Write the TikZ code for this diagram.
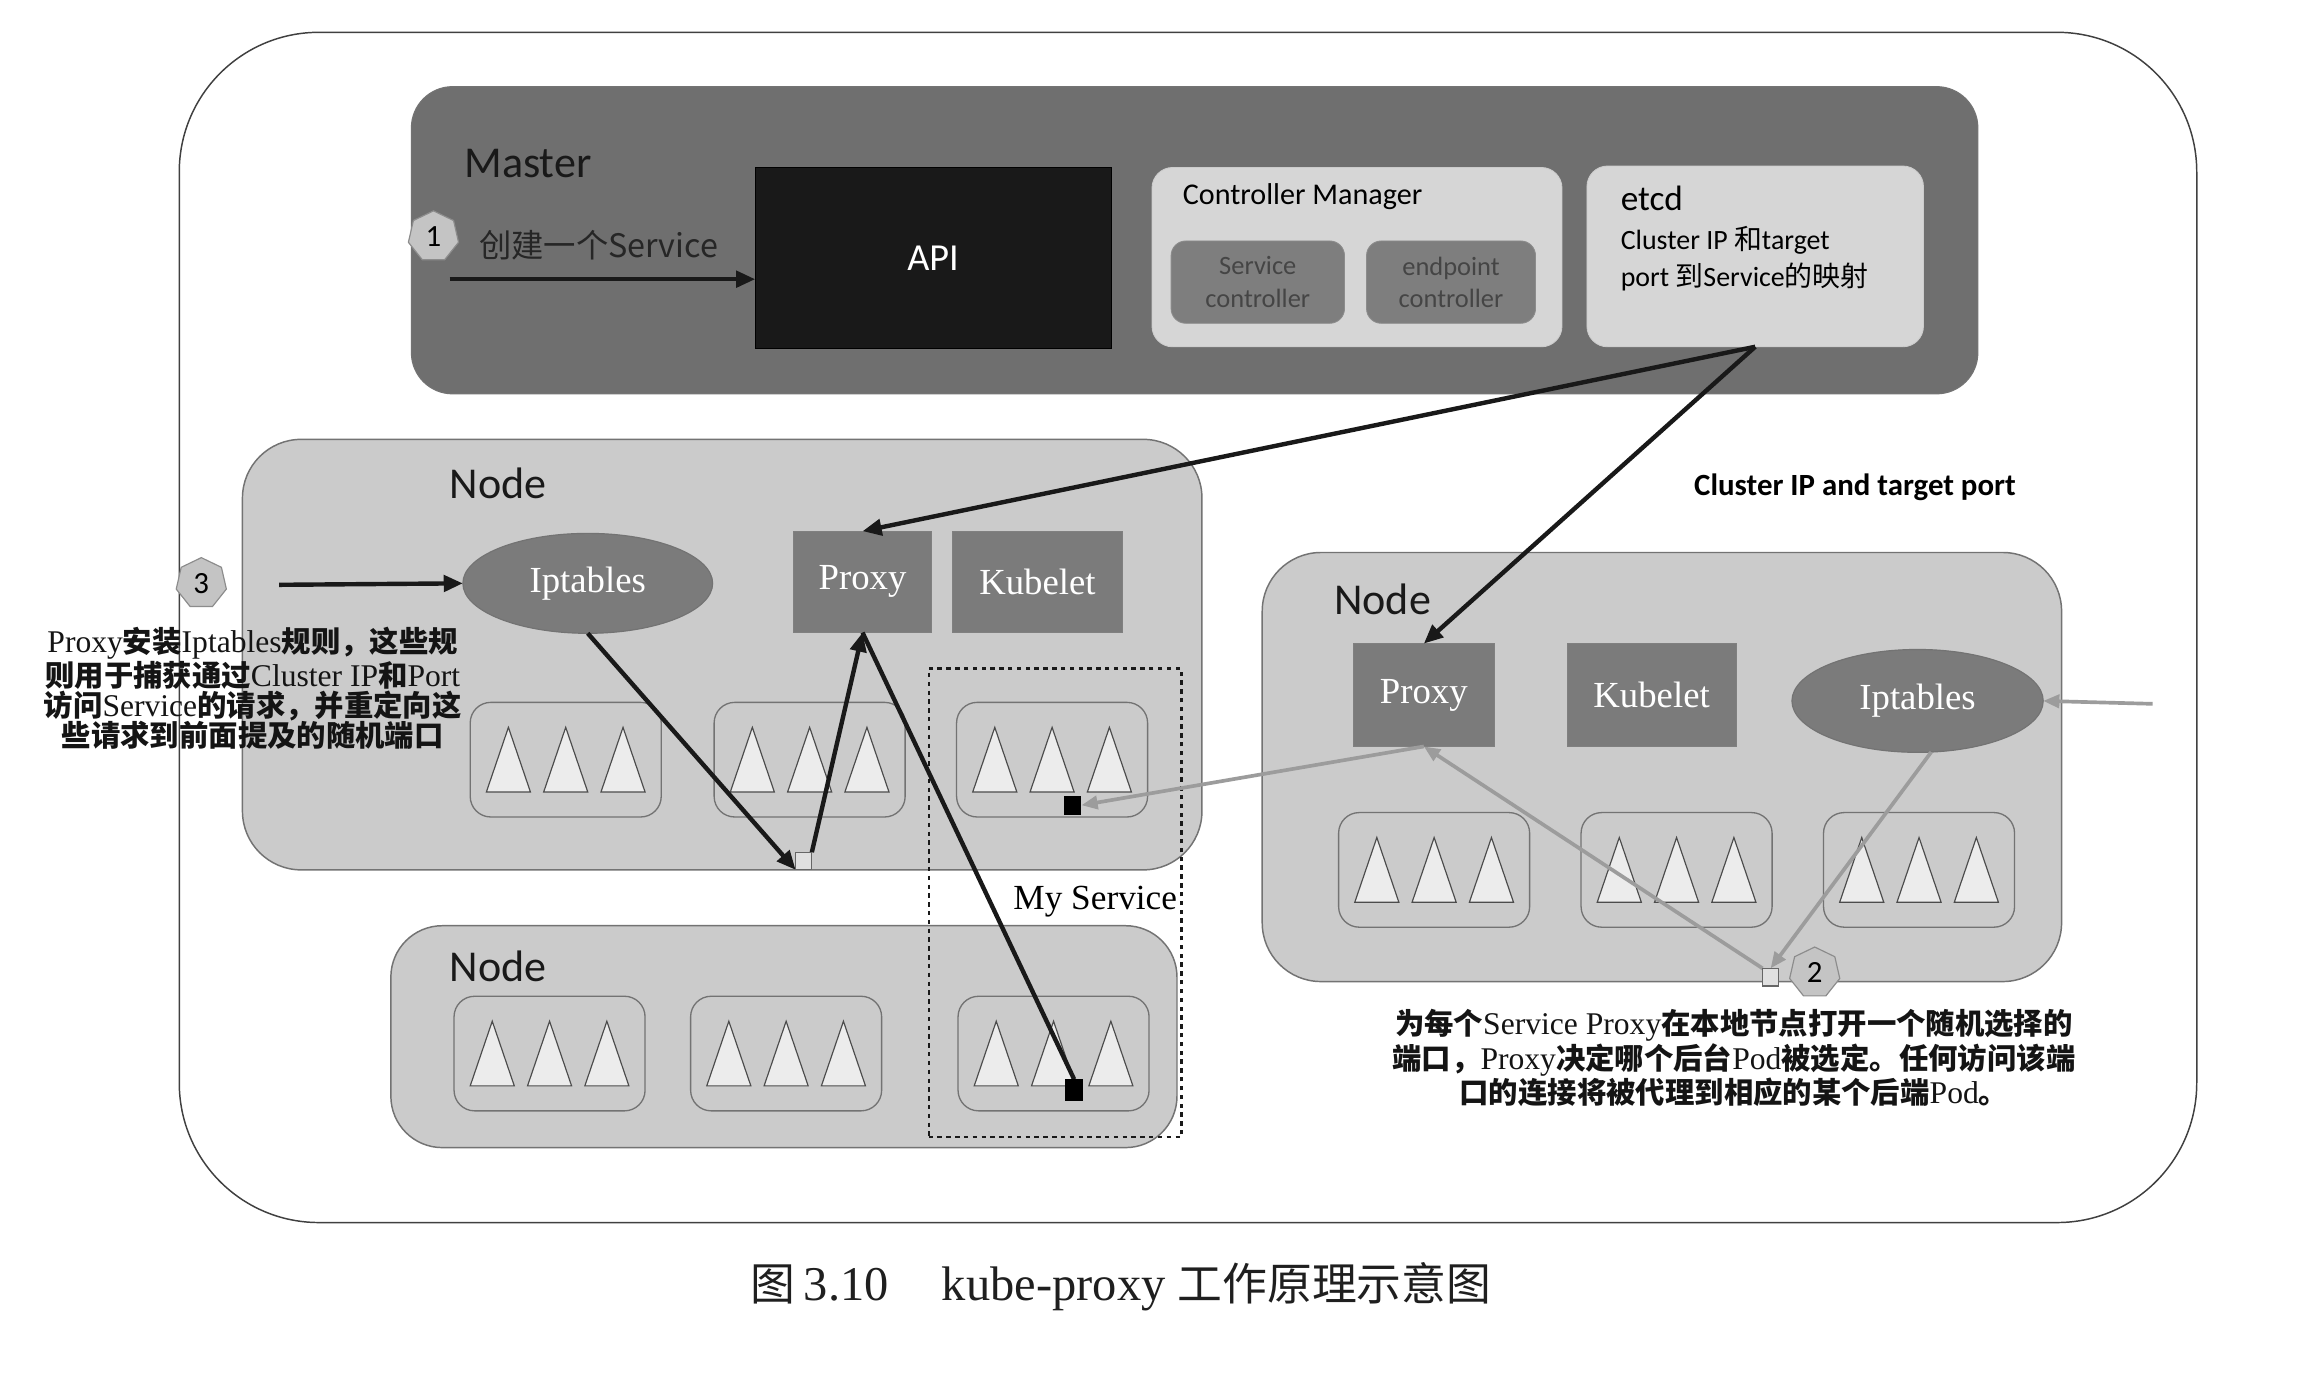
\documentclass[tikz,border=0pt]{standalone}
\usepackage{fontspec}
\setmainfont{Liberation Serif}
\newfontfamily\calib{Carlito}
\newfontfamily\cjk{Noto Sans CJK SC}
\usetikzlibrary{arrows.meta,shapes.geometric}
\definecolor{mastergray}{HTML}{6F6F6F}
\definecolor{lightbox}{HTML}{D6D6D6}
\definecolor{nodefill}{HTML}{CBCBCB}
\definecolor{compfill}{HTML}{7B7B7B}
\definecolor{ctrlfill}{HTML}{7E7E7E}
\definecolor{ctrltext}{HTML}{454545}
\definecolor{trifill}{HTML}{ECECEC}
\definecolor{graylink}{HTML}{9C9C9C}
\definecolor{markfill}{HTML}{C4C4C4}
\newcommand\zhb[1]{{\cjk\bfseries\fontsize{20}{20.5}\selectfont #1}}
\newcommand\zhr[1]{{\cjk #1}}
\tikzset{
  every node/.style={inner sep=0pt, outer sep=0pt},
  frame/.style={draw=black!75, line width=1pt, rounded corners=95pt, fill=white},
  masterbox/.style={draw=black!55, fill=mastergray, rounded corners=28pt, line width=0.8pt},
  apibox/.style={fill=black!90, draw=black},
  lightpanel/.style={fill=lightbox, draw=white!80!black, rounded corners=14pt, line width=0.6pt},
  ctrlbox/.style={fill=ctrlfill, draw=black!45, rounded corners=10pt, line width=0.6pt, text=ctrltext,
     align=center, font=\calib\fontsize{18}{22}\selectfont},
  knode/.style={fill=nodefill, draw=black!55, line width=1pt, rounded corners=40pt},
  compbox/.style={fill=compfill, draw=black!50, line width=0.8pt, text=white,
     font=\fontsize{25}{30}\selectfont},
  iptab/.style={ellipse, fill=compfill, draw=black!55, line width=0.8pt, text=white,
     minimum width=170pt, minimum height=68pt, font=\fontsize{25}{30}\selectfont},
  podbox/.style={fill=nodefill, draw=black!55, line width=0.9pt, rounded corners=14pt,
     minimum width=130pt, minimum height=78pt},
  tri/.style={fill=trifill, draw=black!70, line width=0.8pt},
  marker/.style={regular polygon, regular polygon sides=7, minimum size=35pt, fill=markfill,
     draw=black!45, line width=0.8pt, font=\calib\fontsize{21}{24}\selectfont},
  title/.style={font=\calib\fontsize{30}{36}\selectfont, text=black!90},
  blackarrow/.style={draw=black!90, line width=3pt, -{Triangle[length=13pt,width=11pt]}},
  blackline/.style={draw=black!90, line width=3pt},
  grayarrow/.style={draw=graylink, line width=2.5pt, -{Triangle[length=11pt,width=9pt]}},
  opensq/.style={fill=white!88!black, draw=black!60, line width=0.8pt, minimum width=11pt, minimum height=12pt},
  blacksq/.style={fill=black, minimum width=12pt, minimum height=13pt},
  note/.style={align=center, text=black!92, font=\fontsize{21.5}{20.5}\selectfont},
}
\newcommand\podgroup[3]{%
  \node[podbox] (#1) at (#2,#3) {};
  \foreach \dx in {-39,0,39} {
    \draw[tri] ({#2+\dx-15},{#3+22}) -- ({#2+\dx},{#3-22}) -- ({#2+\dx+15},{#3+22}) -- cycle;
  }
}
\begin{document}
\begin{tikzpicture}[x=1pt,y=-1pt]
\useasboundingbox (0,0) rectangle (1568,941);
\fill[white] (0,0) rectangle (1568,941);

% outer frame
\node[frame, minimum width=1373pt, minimum height=810pt, anchor=north west] (frame) at (122,22) {};

% ---------------- Master ----------------
\node[masterbox, minimum width=1066pt, minimum height=209pt, anchor=north west] (master) at (280,59) {};
\node[title, anchor=base west] (masterlbl) at (316,121) {Master};
\node[apibox, minimum width=242pt, minimum height=123pt, anchor=north west, text=white,
      font=\calib\fontsize{26}{30}\selectfont] (api) at (514,114) {API};
\node[marker] (m1) at (295,161) {1};
\node[anchor=west, text=black!85, font=\cjk\fontsize{22}{26}\selectfont] (create) at (326,167) {创建一个Service};
\coordinate (a1s) at (306,190);
\draw[blackarrow] (a1s) -- (api.west |- a1s);

\node[lightpanel, minimum width=279pt, minimum height=122pt, anchor=north west] (cm) at (784,114) {};
\node[anchor=base west, font=\calib\fontsize{20.5}{24}\selectfont] (cmlbl) at (805,139) {Controller Manager};
\node[ctrlbox, minimum width=118pt, minimum height=56pt, anchor=north west] (svcctl) at (797,164) {Service\\controller};
\node[ctrlbox, minimum width=115pt, minimum height=56pt, anchor=north west] (epctl) at (930,164) {endpoint\\controller};

\node[lightpanel, minimum width=229pt, minimum height=123pt, anchor=north west] (etcd) at (1080,113) {};
\node[anchor=base west, font=\calib\fontsize{24}{28}\selectfont] (etcdlbl) at (1103,143) {etcd};
\node[anchor=base west, font=\calib\fontsize{19}{23}\selectfont] (etcdl1) at (1103,170) {Cluster IP \zhr{和}target};
\node[anchor=base west, font=\calib\fontsize{19}{23}\selectfont] (etcdl2) at (1103,195) {port \zhr{到}Service\zhr{的映射}};

% ---------------- Node 1 ----------------
\node[knode, minimum width=653pt, minimum height=293pt, anchor=north west] (n1) at (165,299) {};
\node[title, anchor=base west] (n1lbl) at (306,339) {Node};
\node[iptab] (ipt1) at (400,397) {Iptables};
\node[compbox, minimum width=94pt, minimum height=69pt] (proxy1) at (587,396) {Proxy};
\node[compbox, minimum width=116pt, minimum height=69pt] (kube1) at (706,396) {Kubelet};
\podgroup{p11}{385}{517}
\podgroup{p12}{551}{517}
\podgroup{p13}{716}{517}

% ---------------- Node 3 (bottom) ----------------
\node[knode, rounded corners=35pt, minimum width=535pt, minimum height=151pt, anchor=north west] (n3) at (266,630) {};
\node[title, anchor=base west] (n3lbl) at (306,668) {Node};
\podgroup{p31}{374}{717}
\podgroup{p32}{535}{717}
\podgroup{p33}{717}{717}

% ---------------- Node 2 ----------------
\node[knode, minimum width=544pt, minimum height=292pt, anchor=north west] (n2) at (859,376) {};
\node[title, anchor=base west] (n2lbl) at (908,418) {Node};
\node[compbox, minimum width=96pt, minimum height=70pt] (proxy2) at (969,473) {Proxy};
\node[compbox, minimum width=115pt, minimum height=70pt] (kube2) at (1124,473) {Kubelet};
\node[iptab, minimum width=171pt, minimum height=70pt] (ipt2) at (1305,477) {Iptables};
\podgroup{p21}{976}{592}
\podgroup{p22}{1141}{592}
\podgroup{p23}{1306}{592}

% ---------------- My Service ----------------
\node[draw=black!90, dashed, line width=1.5pt, minimum width=172pt, minimum height=319pt, anchor=north west] (mysvc) at (632,455) {};
\node[anchor=base east, font=\fontsize{24}{28}\selectfont] (mysvclbl) at (801,619) {My Service};

% small squares
\node[opensq] (sq1) at (547,586) {};
\node[blacksq] (bk1) at (730,548) {};
\node[blacksq, minimum height=15pt] (bk2) at (731,742) {};
\node[opensq] (sq2) at (1205,665) {};

% ---------------- connectors ----------------
\draw[blackarrow] (etcd.south) -- (proxy1.north);
\draw[blackarrow] (etcd.south) -- (proxy2.north);
\node[anchor=base west, font=\calib\bfseries\fontsize{21}{25}\selectfont] (cipt) at (1153,337) {Cluster IP and target port};

\node[marker] (m3) at (137,397) {3};
\coordinate (a3s) at (190,398);
\draw[blackarrow] (a3s) -- (ipt1.west);
\draw[blackarrow] (ipt1.south) -- (sq1.south west);
\draw[blackarrow] (sq1.north east) -- (proxy1.south);
\draw[blackline] (proxy1.south) -- (bk2.north);
\node[blacksq, minimum height=15pt] at (bk2) {};

\draw[grayarrow] (proxy2.south) -- (bk1.east);
\draw[grayarrow] (sq2.north west) -- (proxy2.south);
\draw[grayarrow] (ipt2.-75) -- (sq2.north);
\coordinate (inR) at (1465,479);
\draw[grayarrow] (inR) -- (ipt2.east);
\node[opensq] at (sq1) {};
\node[opensq] at (sq2) {};
\node[marker] (m2) at (1235,662) {2};

% ---------------- notes ----------------
\node[note, anchor=north] (note3) at (172,427) {%
  Proxy\zhb{安装}Iptables\zhb{规则，这些规}\\
  \zhb{则用于捕获通过}Cluster IP\zhb{和}Port\\
  \zhb{访问}Service\zhb{的请求，并重定向这}\\
  \zhb{些请求到前面提及的随机端口}};
\node[note, anchor=north, font=\fontsize{21.5}{23.5}\selectfont] (note2) at (1180,687) {%
  \zhb{为每个}Service Proxy\zhb{在本地节点打开一个随机选择的}\\
  \zhb{端口，}Proxy\zhb{决定哪个后台}Pod\zhb{被选定。任何访问该端}\\
  \zhb{口的连接将被代理到相应的某个后端}Pod\zhb{。}};

% caption
\node[text=black!88, font=\fontsize{33}{36}\selectfont] (caption) at (763,876) {%
  {\cjk\fontsize{30.5}{36}\selectfont 图}\,3.10\hspace{1.1em}kube-proxy {\cjk\fontsize{30.5}{36}\selectfont 工作原理示意图}};
\end{tikzpicture}
\end{document}
